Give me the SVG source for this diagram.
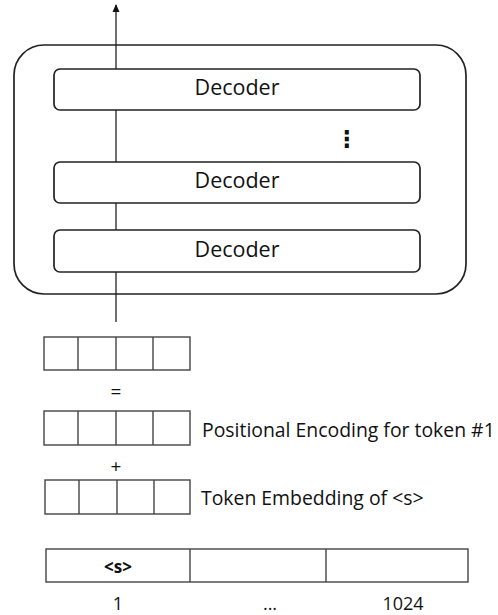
<svg xmlns="http://www.w3.org/2000/svg" width="498" height="615" viewBox="0 0 498 615">
<style>
.box{fill:#fff;stroke:#222;stroke-width:1.7}
.cell{fill:#fff;stroke:#444;stroke-width:1.4}
.div{stroke:#444;stroke-width:1.4}
.t{font-family:"Open Sans","DejaVu Sans",sans-serif;fill:#111}
.dec{font-size:21.5px;text-anchor:middle}
.lab{font-size:19.4px}
.num{font-size:18px;text-anchor:middle}
.op{font-size:19px;text-anchor:middle}
</style>
<defs>
<marker id="ah" viewBox="0 0 8 8" refX="7" refY="4" markerWidth="8" markerHeight="8" markerUnits="userSpaceOnUse" orient="auto">
<path d="M0,0.5 L8,4 L0,7.5 Z" fill="#111"/>
</marker>
</defs>
<g id="stack">
<rect class="box" x="14" y="45" width="452" height="249" rx="30" ry="30"/>
</g>
<g id="connectors">
<line x1="116" y1="322" x2="116" y2="5" stroke="#222" stroke-width="1.3" marker-end="url(#ah)"/>
</g>
<g id="decoder1">
<rect class="box" x="54" y="69" width="366" height="41" rx="6"/>
<text class="t dec" x="237" y="95">Decoder</text>
</g>
<g id="dots">
<text class="t" x="347" y="147" font-size="23" font-weight="bold" text-anchor="middle">⋮</text>
</g>
<g id="decoder2">
<rect class="box" x="54" y="162" width="366" height="41" rx="6"/>
<text class="t dec" x="237" y="188">Decoder</text>
</g>
<g id="decoder3">
<rect class="box" x="54" y="230" width="366" height="42" rx="6"/>
<text class="t dec" x="237" y="257">Decoder</text>
</g>
<g id="vec-sum">
<rect class="cell" x="44" y="337" width="146" height="33"/>
<line class="div" x1="78" y1="337" x2="78" y2="370"/>
<line class="div" x1="116" y1="337" x2="116" y2="370"/>
<line class="div" x1="153" y1="337" x2="153" y2="370"/>
</g>
<g id="eq">
<text class="t op" x="116" y="398">=</text>
</g>
<g id="vec-pos">
<rect class="cell" x="44" y="411" width="146" height="34"/>
<line class="div" x1="78" y1="411" x2="78" y2="445"/>
<line class="div" x1="116" y1="411" x2="116" y2="445"/>
<line class="div" x1="153" y1="411" x2="153" y2="445"/>
<text class="t lab" x="202" y="437">Positional Encoding for token #1</text>
</g>
<g id="plus">
<text class="t op" x="116" y="473">+</text>
</g>
<g id="vec-tok">
<rect class="cell" x="45" y="480" width="145" height="34"/>
<line class="div" x1="79" y1="480" x2="79" y2="514"/>
<line class="div" x1="117" y1="480" x2="117" y2="514"/>
<line class="div" x1="154" y1="480" x2="154" y2="514"/>
<text class="t lab" x="201" y="505">Token Embedding of &lt;s&gt;</text>
</g>
<g id="sequence">
<rect class="cell" x="46" y="549" width="422" height="33"/>
<line class="div" x1="190" y1="549" x2="190" y2="582"/>
<line class="div" x1="326" y1="549" x2="326" y2="582"/>
<text class="t" x="118" y="573" font-size="17" font-weight="bold" text-anchor="middle">&lt;s&gt;</text>
<text class="t num" x="118" y="610">1</text>
<text class="t num" x="270" y="610">...</text>
<text class="t num" x="403" y="610">1024</text>
</g>
</svg>
